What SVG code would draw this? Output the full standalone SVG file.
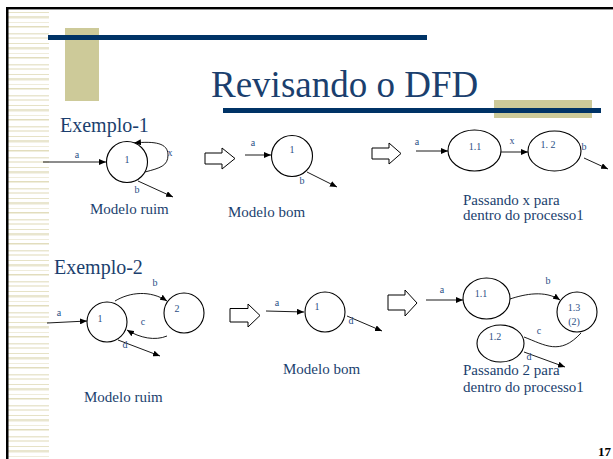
<svg xmlns="http://www.w3.org/2000/svg" width="613" height="459" viewBox="0 0 613 459">
<style>
.t{font-family:"Liberation Serif","Times New Roman",serif;fill:#1b3f6e}
.big{font-size:15px}
.lbl{font-family:"Liberation Serif","Times New Roman",serif;font-size:10px;fill:#2b4f86;text-anchor:middle}
.ln{fill:none;stroke:#000;stroke-width:0.9}
.nd{fill:#fff;stroke:#000;stroke-width:1.1}
.ha{fill:#fff;stroke:#000;stroke-width:1}
</style>
<defs>
<marker id="ah" markerUnits="userSpaceOnUse" markerWidth="8" markerHeight="6" refX="7" refY="3" orient="auto">
<path d="M0,0 L7,3 L0,6 Z" fill="#000"/>
</marker>
<pattern id="stripes" patternUnits="userSpaceOnUse" x="0" y="0" width="41" height="31">
<rect x="0" y="2" width="41" height="1.5" fill="#e9e6cf"/>
<rect x="0" y="6" width="41" height="2" fill="#efecdb"/>
<rect x="0" y="12" width="41" height="1" fill="#e6e2c6"/>
<rect x="0" y="16" width="41" height="2.5" fill="#e9e6cf"/>
<rect x="0" y="22" width="41" height="1" fill="#efecdb"/>
<rect x="0" y="26" width="41" height="1.5" fill="#e2ddbd"/>
</pattern>
</defs>
<rect width="613" height="459" fill="#fff"/>
<rect x="8" y="9" width="41" height="450" fill="url(#stripes)"/>
<rect x="6" y="7" width="607" height="2" fill="#000"/>
<rect x="6" y="9" width="607" height="1" fill="#999"/>
<rect x="6" y="7" width="2.5" height="452" fill="#000"/>
<rect x="65" y="28" width="34" height="73" fill="#cdca99"/>
<rect x="48" y="35" width="379" height="5" fill="#003366"/>
<rect x="494" y="100" width="98" height="18" fill="#cdca99"/>
<rect x="223" y="108" width="378" height="5" fill="#003366"/>
<text class="t" x="211" y="97" font-size="37">Revisando o DFD</text>
<text class="t" x="60" y="132" font-size="20">Exemplo-1</text>
<text class="t" x="54" y="274" font-size="20">Exemplo-2</text>
<text x="611" y="456" font-family="Liberation Serif, serif" font-size="13" font-weight="bold" text-anchor="end" fill="#000">17</text>

<g id="connectors">
<path class="ln" d="M43,162 L106,162" marker-end="url(#ah)"/>
<path class="ln" d="M145,172 C160,168 168,166 168,155 C168,143 155,141 134,143" marker-end="url(#ah)"/>
<path class="ln" d="M138,181 L173,197" marker-end="url(#ah)"/>
<path class="ln" d="M245,155 L271,155" marker-end="url(#ah)"/>
<path class="ln" d="M307,172 L337,187" marker-end="url(#ah)"/>
<path class="ln" d="M416,151 L448,151" marker-end="url(#ah)"/>
<path class="ln" d="M501,152 L528,152" marker-end="url(#ah)"/>
<path class="ln" d="M584,158 L608,169" marker-end="url(#ah)"/>
<path class="ln" d="M47,323 L87,321" marker-end="url(#ah)"/>
<path class="ln" d="M115,301 C130,292 150,290 167,301" marker-end="url(#ah)"/>
<path class="ln" d="M167,336 C155,341 140,338 127,330" marker-end="url(#ah)"/>
<path class="ln" d="M118,340 L160,356" marker-end="url(#ah)"/>
<path class="ln" d="M266,311 L304,312" marker-end="url(#ah)"/>
<path class="ln" d="M347,316 L382,331" marker-end="url(#ah)"/>
<path class="ln" d="M426,300 L463,300" marker-end="url(#ah)"/>
<path class="ln" d="M510,299 C525,294 545,290 560,300" marker-end="url(#ah)"/>
<path class="ln" d="M524,337 C545,345 560,356 581,333"/>
<path class="ln" d="M524,352 L565,367" marker-end="url(#ah)"/>
<polygon class="ha" points="205,153 222,153 222,148 235,158.5 222,169 222,164 205,164"/>
<polygon class="ha" points="372,148 389,148 389,143 401,153.5 389,164 389,159 372,159"/>
<polygon class="ha" points="230,308.5 248,308.5 248,304 260,315.5 248,327 248,322 230,322"/>
<polygon class="ha" points="388,295 405,295 405,290 417,303 405,316 405,310 388,310"/>
<text class="lbl" x="77" y="158">a</text>
<text class="lbl" x="170" y="156">x</text>
<text class="lbl" x="137" y="193">b</text>
<text class="lbl" x="253" y="146">a</text>
<text class="lbl" x="302" y="184">b</text>
<text class="lbl" x="417" y="145">a</text>
<text class="lbl" x="512" y="144">x</text>
<text class="lbl" x="584" y="150">b</text>
<text class="lbl" x="59" y="316">a</text>
<text class="lbl" x="155" y="286">b</text>
<text class="lbl" x="143" y="325">c</text>
<text class="lbl" x="125" y="348">d</text>
<text class="lbl" x="277" y="306">a</text>
<text class="lbl" x="351" y="324">d</text>
<text class="lbl" x="442" y="293">a</text>
<text class="lbl" x="548" y="284">b</text>
<text class="lbl" x="539" y="334">c</text>
<text class="lbl" x="529" y="360">d</text>
</g>

<g id="ex1-ruim-p1"><circle class="nd" cx="127" cy="162" r="20.5"/><text class="lbl" x="127" y="163">1</text></g>
<g id="ex1-bom-p1"><circle class="nd" cx="292" cy="156" r="20.5"/><text class="lbl" x="292" y="153">1</text></g>
<g id="ex1-p11"><ellipse class="nd" cx="474.5" cy="150.5" rx="26.5" ry="20.5"/><text class="lbl" x="475" y="150">1.1</text></g>
<g id="ex1-p12"><ellipse class="nd" cx="554.5" cy="151" rx="26.5" ry="20"/><text class="lbl" x="548" y="148">1. 2</text></g>
<g id="ex2-ruim-p1"><circle class="nd" cx="107" cy="322" r="20"/><text class="lbl" x="100" y="322">1</text></g>
<g id="ex2-ruim-p2"><circle class="nd" cx="184" cy="313" r="20"/><text class="lbl" x="177" y="312">2</text></g>
<g id="ex2-bom-p1"><circle class="nd" cx="325" cy="312" r="20"/><text class="lbl" x="317" y="310">1</text></g>
<g id="ex2-p11"><ellipse class="nd" cx="486.5" cy="298.5" rx="23.5" ry="20.5"/><text class="lbl" x="481" y="297">1.1</text></g>
<g id="ex2-p13"><circle class="nd" cx="577" cy="312" r="20"/><text class="lbl" x="574" y="311">1.3</text><text class="lbl" x="574" y="325">(2)</text></g>
<g id="ex2-p12"><ellipse class="nd" cx="500.5" cy="343.5" rx="23.5" ry="18.5"/><text class="lbl" x="495" y="340">1.2</text></g>

<g id="captions">
<text class="t big" x="90" y="214">Modelo ruim</text>
<text class="t big" x="228" y="217">Modelo bom</text>
<text class="t big" x="463" y="205">Passando x para</text>
<text class="t big" x="463" y="220">dentro do processo1</text>
<text class="t big" x="84" y="402">Modelo ruim</text>
<text class="t big" x="283" y="374">Modelo bom</text>
<text class="t big" x="463" y="375">Passando 2 para</text>
<text class="t big" x="463" y="392">dentro do processo1</text>
</g>
</svg>
